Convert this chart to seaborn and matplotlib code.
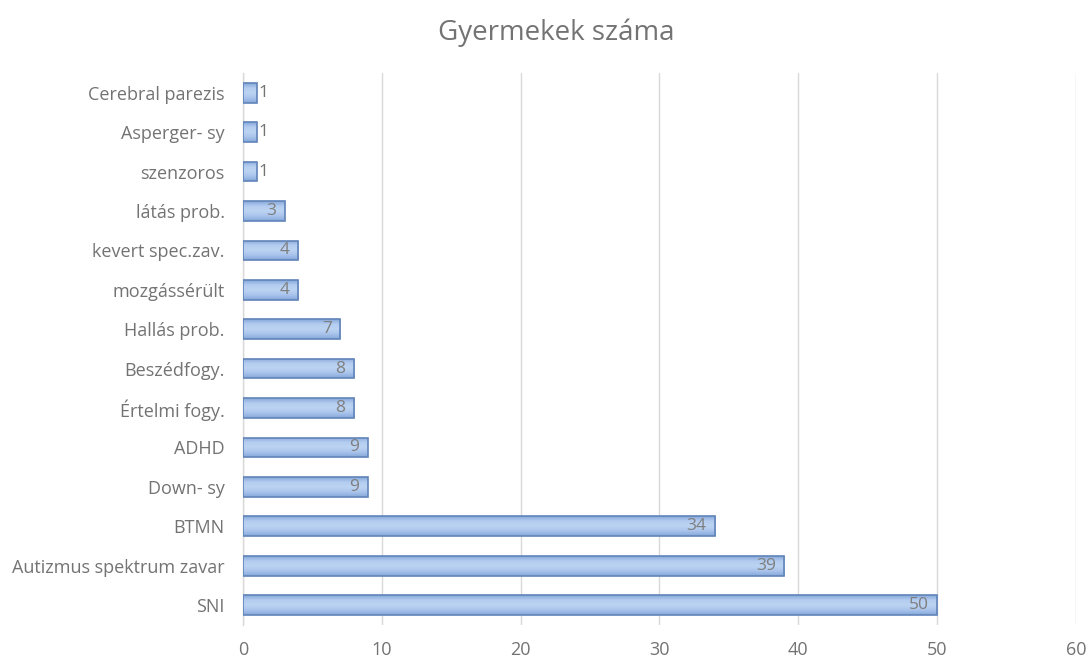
import matplotlib
matplotlib.use("Agg")
import matplotlib.pyplot as plt
import seaborn as sns
import pandas as pd
import numpy as np

categories = ["Cerebral parezis", "Asperger- sy", "szenzoros", "látás prob.",
              "kevert spec.zav.", "mozgássérült", "Hallás prob.", "Beszédfogy.",
              "Értelmi fogy.", "ADHD", "Down- sy", "BTMN",
              "Autizmus spektrum zavar", "SNI"]
counts = [1, 1, 1, 3, 4, 4, 7, 8, 8, 9, 9, 34, 39, 50]
x_ticks = [0, 10, 20, 30, 40, 50, 60]

df = pd.DataFrame({"kategoria": categories, "gyermekek": counts})

sns.set_theme(style="white")
plt.rcParams["font.family"] = ["Open Sans", "DejaVu Sans"]

fig = plt.figure(figsize=(10.89, 6.64), dpi=100)
ax = fig.add_axes([0.223, 0.059, 0.765, 0.831])

sns.barplot(data=df, x="gyermekek", y="kategoria", order=categories,
            color="#9DBCE6", edgecolor="#6184BA", linewidth=1.2,
            width=0.5, saturation=1, ax=ax, zorder=3)

# vertical gradient fill inside each bar
cmap = matplotlib.colors.LinearSegmentedColormap.from_list(
    "bar", ["#86A8DA", "#B4CDF0", "#BCD3F2", "#A9C4EC", "#86A8DA"])
for p in list(ax.patches):
    x0, y0 = p.get_x(), p.get_y()
    w, h = p.get_width(), p.get_height()
    im = ax.imshow(np.linspace(0, 1, 50).reshape(-1, 1), cmap=cmap, aspect="auto",
                   extent=[x0, x0 + w, y0 + h, y0], zorder=3.5,
                   interpolation="bilinear")
    im.set_clip_path(p)
    p.set_facecolor("none")
    p.set_zorder(4)

ax.set_xlim(0, 60)
ax.set_ylim(len(categories) - 0.5, -0.5)
ax.set_xticks(x_ticks)
ax.set_xticklabels([str(t) for t in x_ticks])
ax.xaxis.grid(True, color="#D9D9D9", linewidth=1.0, zorder=0)
ax.set_axisbelow(True)
for s in ["top", "right", "bottom"]:
    ax.spines[s].set_visible(False)
ax.spines["left"].set_color("#D9D9D9")
ax.spines["left"].set_linewidth(1.0)
ax.tick_params(axis="both", length=0, colors="#737373", labelsize=13)
ax.tick_params(axis="x", pad=12)
ax.tick_params(axis="y", pad=13)
ax.set_xlabel("")
ax.set_ylabel("")

for i, v in enumerate(counts):
    if v <= 1:
        ax.text(v + 0.1, i, str(v), va="center", ha="left",
                color="#737373", fontsize=12.5, zorder=5)
    else:
        ax.text(v - 0.6, i, str(v), va="center", ha="right",
                color="#7F7F7F", fontsize=12.5, zorder=5)

fig.text(0.511, 0.950, "Gyermekek száma", ha="center", va="center",
         fontsize=20, color="#737373")

fig.savefig("out.png", dpi=100)
